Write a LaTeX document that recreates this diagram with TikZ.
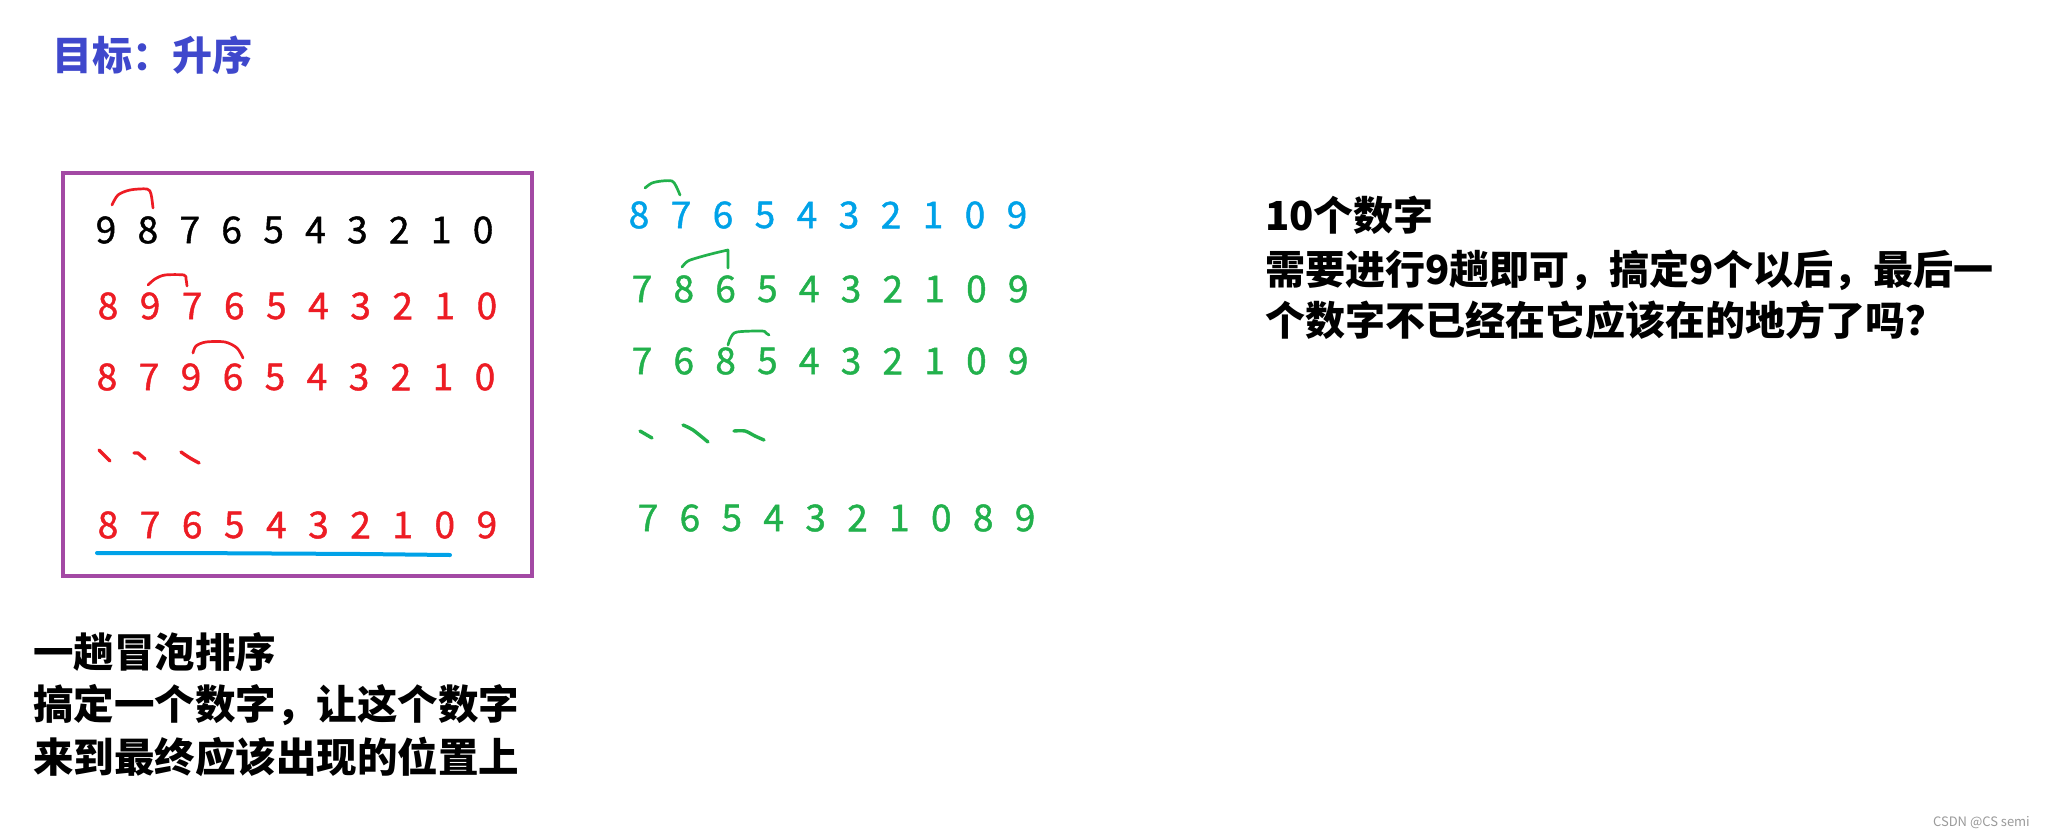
\documentclass[tikz,border=0pt]{standalone}
\usepackage{fontspec}
\setmainfont{Noto Sans CJK SC}
\newfontfamily\digfont[FakeBold=1.2]{Noto Sans CJK SC}
\definecolor{pred}{HTML}{ED1C24}
\definecolor{pblue}{HTML}{00A2E8}
\definecolor{pgreen}{HTML}{22B14C}
\definecolor{ppurple}{HTML}{A349A4}
\definecolor{ptitle}{HTML}{3F48CC}
\definecolor{pgray}{HTML}{9A9A9A}
\tikzset{
  dig/.style={font=\digfont\fontsize{37}{37}\selectfont, inner sep=0pt, anchor=center},
  titletext/.style={font=\bfseries\fontsize{40}{40}\selectfont, text=ptitle, inner sep=0pt, anchor=base west},
  righttext/.style={font=\bfseries\fontsize{40}{40}\selectfont, inner sep=0pt, anchor=base west},
  lefttext/.style={font=\bfseries\fontsize{40.5}{40.5}\selectfont, inner sep=0pt, anchor=base west},
  swapmark/.style={line width=2.7pt, line cap=round, line join=round},
  dotstroke/.style={line width=3.4pt, line cap=round, line join=round},
}
\begin{document}
\begin{tikzpicture}[x=1pt,y=-1pt]
\useasboundingbox[fill=white] (0,0) rectangle (2045,836);

% title
\node[titletext] (title) at (52,70) {目标：升序};

% purple frame
\node[draw=ppurple, line width=4pt, minimum width=469pt, minimum height=403pt, inner sep=0pt] (box) at (297.5,374.5) {};

% rows inside the frame
\foreach \d [count=\i] in {9,8,7,6,5,4,3,2,1,0}
  \node[dig] (a1-\i) at ({106+(\i-1)*41.9},230) {\d};
\foreach \d [count=\i] in {8,9,7,6,5,4,3,2,1,0}
  \node[dig, text=pred] (a2-\i) at ({108+(\i-1)*42.1},306) {\d};
\foreach \d [count=\i] in {8,7,9,6,5,4,3,2,1,0}
  \node[dig, text=pred] (a3-\i) at ({107+(\i-1)*42},377) {\d};
\foreach \d [count=\i] in {8,7,6,5,4,3,2,1,0,9}
  \node[dig, text=pred] (a5-\i) at ({108+(\i-1)*42.1},525) {\d};

% red swap marks
\draw[swapmark, pred] plot[smooth] coordinates {(112,205) (118,195) (130,190) (147,189) (151,194) (153,208)};
\draw[swapmark, pred] plot[smooth] coordinates {(148,285) (155,279) (165,275) (184,275) (186,279) (187,286)};
\draw[swapmark, pred] plot[smooth] coordinates {(193,353) (196,346) (206,342) (225,342) (237,348) (243,358)};

% red ellipsis strokes
\draw[dotstroke, pred] (99,450) -- (110,461);
\draw[dotstroke, pred] (134,453) -- (138,453) -- (145,459);
\draw[dotstroke, pred] plot[smooth] coordinates {(181,452) (190,458) (199,463)};

% blue underline
\draw[line width=4pt, line cap=round, pblue] (97,553) -- (185,553) -- (362,554) -- (450,555);

% middle column
\foreach \d [count=\i] in {8,7,6,5,4,3,2,1,0,9}
  \node[dig, text=pblue] (b1-\i) at ({639+(\i-1)*42},215) {\d};
\foreach \d [count=\i] in {7,8,6,5,4,3,2,1,0,9}
  \node[dig, text=pgreen] (b2-\i) at ({642+(\i-1)*41.8},289) {\d};
\foreach \d [count=\i] in {7,6,8,5,4,3,2,1,0,9}
  \node[dig, text=pgreen] (b3-\i) at ({642+(\i-1)*41.8},361) {\d};
\foreach \d [count=\i] in {7,6,5,4,3,2,1,0,8,9}
  \node[dig, text=pgreen] (b5-\i) at ({648+(\i-1)*41.9},518) {\d};

% green swap marks
\draw[swapmark, pgreen] plot[smooth] coordinates {(645,188) (652,183) (662,181) (672,181) (676,186) (680,195)};
\draw[swapmark, pgreen] plot[smooth] coordinates {(682,267) (688,261) (700,257) (715,253) (728,250)} -- (728,268);
\draw[swapmark, pgreen] plot[smooth] coordinates {(728,345) (731,337) (737,332) (762,331) (766,333) (769,335)};

% green ellipsis strokes
\draw[dotstroke, pgreen] (640,431) -- (652,438);
\draw[dotstroke, pgreen] plot[smooth] coordinates {(683,425) (693,430) (708,442)};
\draw[dotstroke, pgreen] plot[smooth] coordinates {(734,431) (745,431) (755,436) (764,440)};

% right text
\node[righttext] (r1) at (1265,230) {10个数字};
\node[righttext] (r2) at (1265,284) {需要进行9趟即可，搞定9个以后，最后一};
\node[righttext] (r3) at (1265,335) {个数字不已经在它应该在的地方了吗？};

% bottom-left text
\node[lefttext] (l1) at (33,667) {一趟冒泡排序};
\node[lefttext] (l2) at (33,719) {搞定一个数字，让这个数字};
\node[lefttext] (l3) at (33,772) {来到最终应该出现的位置上};

% watermark
\node[font=\fontsize{13}{13}\selectfont, text=pgray, inner sep=0pt, anchor=east] (wm) at (2030,823) {CSDN @CS semi};
\end{tikzpicture}
\end{document}
